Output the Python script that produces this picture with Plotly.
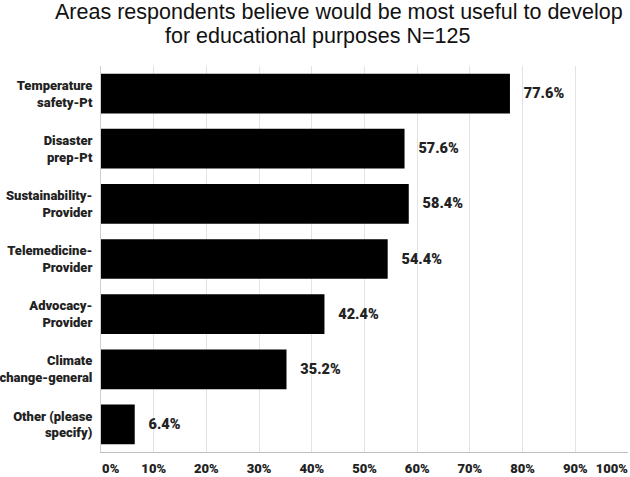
import plotly.graph_objects as go

categories = [
    "Temperature<br>safety-Pt",
    "Disaster<br>prep-Pt",
    "Sustainability-<br>Provider",
    "Telemedicine-<br>Provider",
    "Advocacy-<br>Provider",
    "Climate<br>change-general",
    "Other (please<br>specify)",
]
values = [77.6, 57.6, 58.4, 54.4, 42.4, 35.2, 6.4]
tick_vals = [0, 10, 20, 30, 40, 50, 60, 70, 80, 90, 100]
tick_text = ["\u00a0" * 6 + "0%", "10%", "20%", "30%", "40%", "50%", "60%",
             "70%", "80%", "90%", "100%" + "\u00a0" * 10]

NB = "\u00a0"
fig = go.Figure(go.Bar(
    x=values,
    y=categories,
    orientation="h",
    marker=dict(color="#000000", line=dict(color="#000000", width=0)),
    text=[f"{NB*3}{v:.1f}%" for v in values],
    textposition="outside",
    textfont=dict(family="Roboto", size=14.5, color="#222222", weight=900),
    cliponaxis=False,
    width=0.72,
))

L, R, T, B = 101, 2, 66, 25
W, H = 630, 477
pw = W - L - R
ph = H - T - B

def px_ann(text, x, y, size):
    return dict(text=text, x=(x - L) / pw, y=(H - B - y) / ph,
                xref="paper", yref="paper", showarrow=False,
                xanchor="center", yanchor="middle",
                font=dict(family="Liberation Sans", size=size, color="#111111"))

fig.update_layout(
    width=W, height=H,
    margin=dict(l=L, r=R, t=T, b=B),
    paper_bgcolor="white",
    plot_bgcolor="white",
    showlegend=False,
    annotations=[
        px_ann("Areas respondents believe would be most useful to develop", 339, 12, 21.5),
        px_ann("for educational purposes N=125", 317, 36, 21.5),
    ],
)

fig.update_xaxes(
    range=[0, 100],
    tickvals=tick_vals,
    ticktext=tick_text,
    showgrid=True,
    gridcolor="#e3e3e3",
    gridwidth=1,
    zeroline=False,
    showline=True,
    linecolor="#bdbdbd",
    linewidth=1,
    ticks="",
    ticklabelstandoff=4,
    ticklabeloverflow="allow",
    tickfont=dict(family="Roboto", size=13, color="#222222", weight=900),
    fixedrange=True,
    automargin=False,
)
fig.update_yaxes(
    categoryorder="array",
    categoryarray=categories,
    autorange="reversed",
    showgrid=False,
    showline=True,
    linecolor="#d0d0d0",
    linewidth=1,
    ticks="",
    ticklabelstandoff=5,
    tickfont=dict(family="Roboto", size=13, color="#222222", weight=900),
    automargin=False,
    fixedrange=True,
)

fig.write_html("out.html", config={"displayModeBar": False},
               post_script="document.body.style.margin='0px';")
